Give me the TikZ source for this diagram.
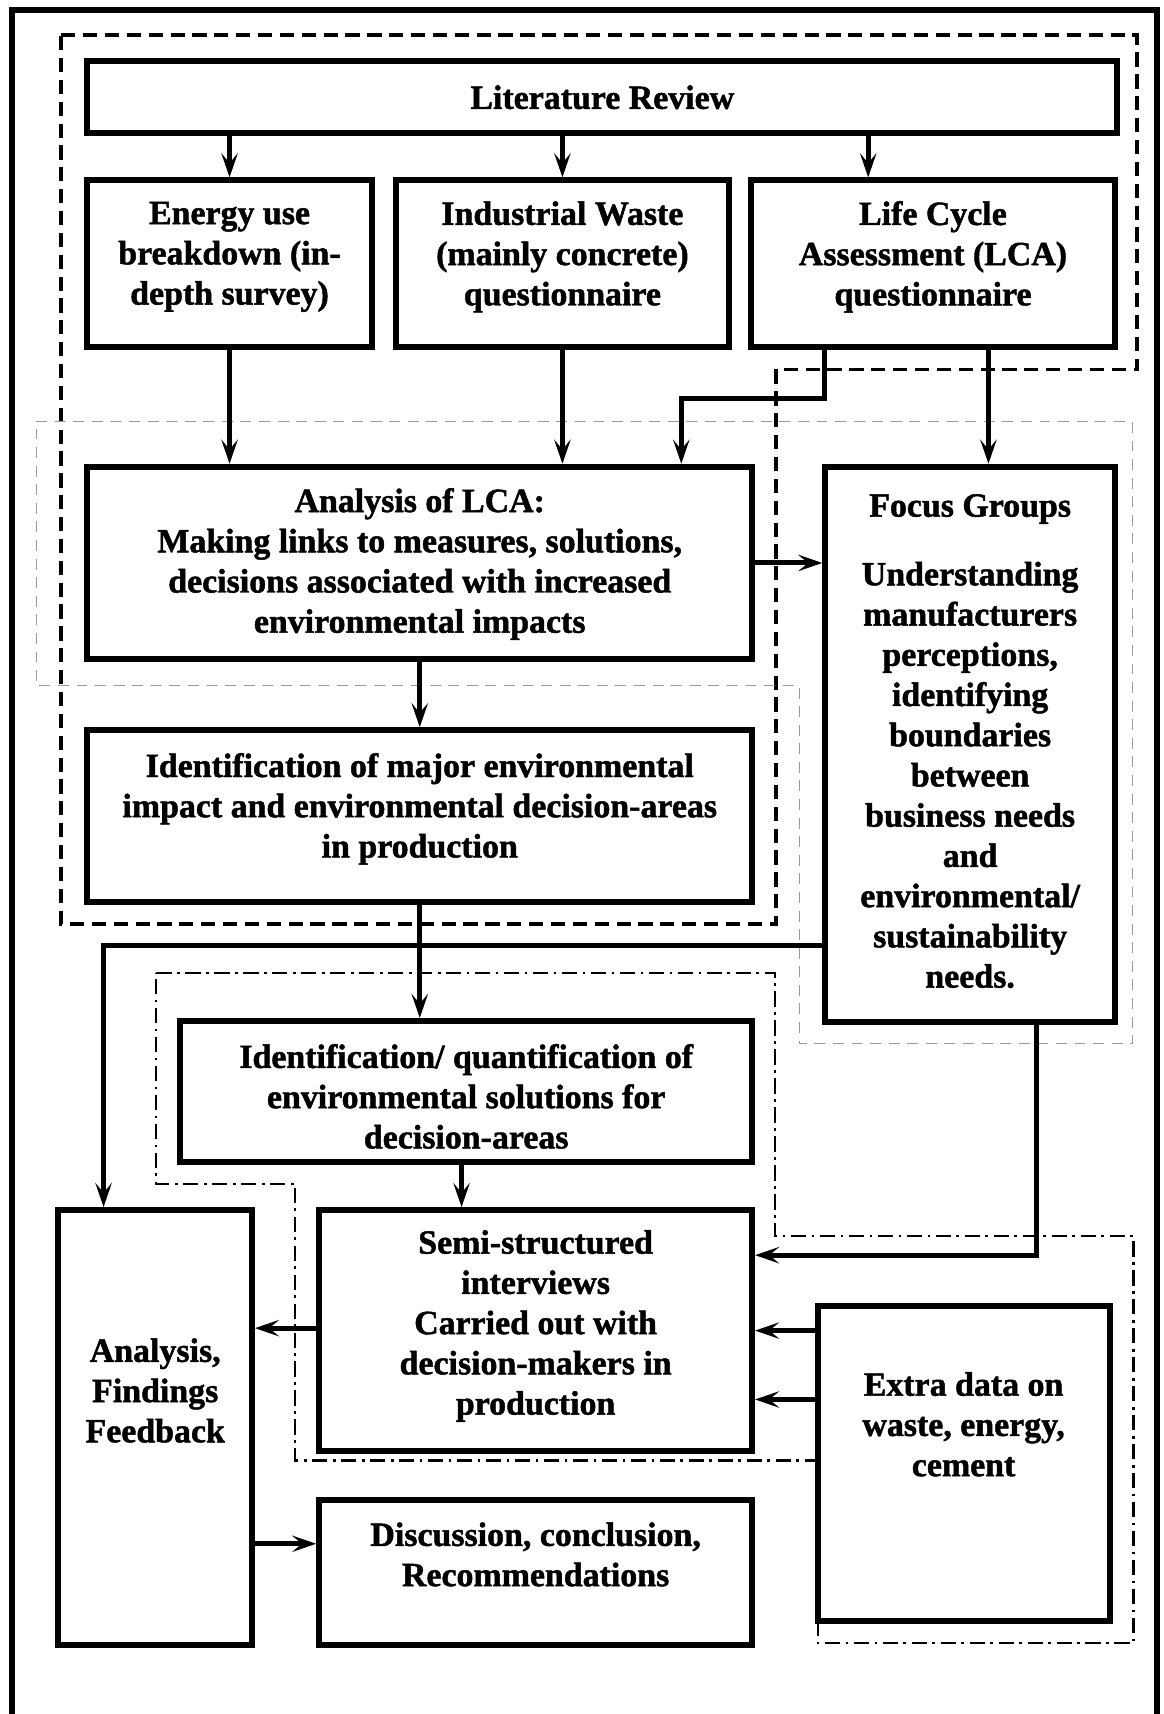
\documentclass[tikz,border=0pt]{standalone}
\usepackage{fontspec}
\setmainfont{Liberation Serif}[BoldFeatures={FakeBold=1.4}]
\usetikzlibrary{arrows.meta,calc}
\begin{document}
\begin{tikzpicture}[x=1pt,y=-1pt,
  box/.style={draw, line width=5.5pt, inner sep=0pt, fill=white},
  txt/.style={align=center, inner sep=0pt, font=\fontsize{31}{36.8}\selectfont\bfseries},
  arr/.style={line width=4.6pt, -{Stealth[length=22pt,width=15pt,inset=9pt]}},
  frame/.style={line width=5.5pt},
  dashreg/.style={line width=3.4pt, dash pattern=on 13pt off 7pt},
  dotreg/.style={line width=1pt, black!40, dash pattern=on 10pt off 7pt},
  dashdotreg/.style={line width=2pt, dash pattern=on 14pt off 5pt on 2.5pt off 5pt},
]
\useasboundingbox (0,0) rectangle (1064,1568);

% outer frame, open at the bottom
\draw[frame] (11,1568) -- (11,9) -- (1058,9) -- (1058,1568);

% grouping outlines
\draw[dashreg] (56,32) -- (1040,32) -- (1040,338) -- (710,338) -- (710,845) -- (56,845) -- cycle;
\draw[dotreg] (33,386) -- (1036,386) -- (1036,955) -- (731,955) -- (731,627) -- (33,627) -- cycle;
\draw[dashdotreg] (143,890) -- (709,890) -- (709,1131) -- (1037,1131) -- (1037,1503)
  -- (748,1503) -- (748,1336) -- (270,1336) -- (270,1083) -- (143,1083) -- cycle;

% boxes
\node[box, minimum width=942pt, minimum height=66pt]  (lit)      at (551,89)     {};
\node[box, minimum width=260pt, minimum height=152pt] (energy)   at (210,241)    {};
\node[box, minimum width=305pt, minimum height=152pt] (waste)    at (514.5,241)  {};
\node[box, minimum width=333pt, minimum height=152pt] (lcaq)     at (853.5,241)  {};
\node[box, minimum width=608pt, minimum height=176pt] (anal)     at (384,515)    {};
\node[box, minimum width=265pt, minimum height=508pt] (focus)    at (887.5,681)  {};
\node[box, minimum width=608pt, minimum height=157pt] (ident)    at (384,746.5)  {};
\node[box, minimum width=523pt, minimum height=129pt] (quant)    at (426.5,998.5){};
\node[box, minimum width=177pt, minimum height=398pt] (findings) at (142,1306)   {};
\node[box, minimum width=396pt, minimum height=220pt] (semi)     at (490,1217)   {};
\node[box, minimum width=267pt, minimum height=288pt] (extra)    at (881.5,1339) {};
\node[box, minimum width=396pt, minimum height=133pt] (disc)     at (490,1438.5) {};

% box texts
\node[txt] (litT)      at (551,89)    {Literature Review};
\node[txt] (energyT)   at (210,235)   {Energy use\\breakdown (in-\\depth survey)};
\node[txt] (wasteT)    at (514.5,235) {Industrial Waste\\(mainly concrete)\\questionnaire};
\node[txt] (lcaqT)     at (853.5,235) {Life Cycle\\Assessment (LCA)\\questionnaire};
\node[txt] (analT)     at (384,516)   {Analysis of LCA:\\Making links to measures, solutions,\\decisions associated with increased\\environmental impacts};
\node[txt] (focusT)    at (887.5,678) {Focus Groups\\[26pt]Understanding\\manufacturers\\perceptions,\\identifying\\boundaries\\between\\business needs\\and\\environmental/\\sustainability\\needs.};
\node[txt] (identT)    at (384,740)   {Identification of major environmental\\impact and environmental decision-areas\\in production};
\node[txt] (quantT)    at (426.5,1003){Identification/ quantification of\\environmental solutions for\\decision-areas};
\node[txt] (findingsT) at (142,1272)  {Analysis,\\Findings\\Feedback};
\node[txt] (semiT)     at (490,1213)  {Semi-structured\\interviews\\Carried out with\\decision-makers in\\production};
\node[txt] (extraT)    at (881.5,1303){Extra data on\\waste, energy,\\cement};
\node[txt] (discT)     at (490,1422)  {Discussion, conclusion,\\Recommendations};

% connector end points on box sides
\path (lcaq.north west) ++(110,0) coordinate (lcaIn);
\path (lcaq.south west) ++(70,0)  coordinate (lcaOut1);
\path (lcaq.south west) ++(220,0) coordinate (lcaOut2);
\path (anal.north west) ++(546,0) coordinate (analIn3);
\path (focus.north west) ++(0,441) coordinate (focusOut1);
\path (focus.south west) ++(196,0) coordinate (focusOut2);
\path (findings.north west) ++(44,0) coordinate (findIn);
\path (findings.north east) ++(0,308) coordinate (findOut);
\path (quant.south west) ++(260,0) coordinate (quantOut);
\path (semi.north east) ++(0,44) coordinate (semiIn1);
\path (extra.north west) ++(0,25) coordinate (extraOut1);
\path (extra.north west) ++(0,88) coordinate (extraOut2);
\path (semi.west) ++(0,-2) coordinate (semiOut);

% connectors
\draw[arr] (lit.south -| energy.north) -- (energy.north);
\draw[arr] (lit.south -| waste.north) -- (waste.north);
\draw[arr] (lit.south -| lcaIn) -- (lcaIn);
\draw[arr] (energy.south) -- (energy.south |- anal.north);
\draw[arr] (waste.south) -- (waste.south |- anal.north);
\draw[arr] (lcaOut1) -- ++(0,45) -| (analIn3);
\draw[arr] (lcaOut2) -- (lcaOut2 |- focus.north);
\draw[arr] (anal.east) -- (anal.east -| focus.west);
\draw[arr] (anal.south) -- (anal.south |- ident.north);
\draw[arr] (ident.south) -- (ident.south |- quant.north);
\draw[arr] (focusOut1) -| (findIn);
\draw[arr] (quantOut) -- (quantOut |- semi.north);
\draw[arr] (semiOut) -- (semiOut -| findings.east);
\draw[arr] (focusOut2) |- (semiIn1);
\draw[arr] (extraOut1) -- (extraOut1 -| semi.east);
\draw[arr] (extraOut2) -- (extraOut2 -| semi.east);
\draw[arr] (findOut) -- (findOut -| disc.west);
\end{tikzpicture}
\end{document}
